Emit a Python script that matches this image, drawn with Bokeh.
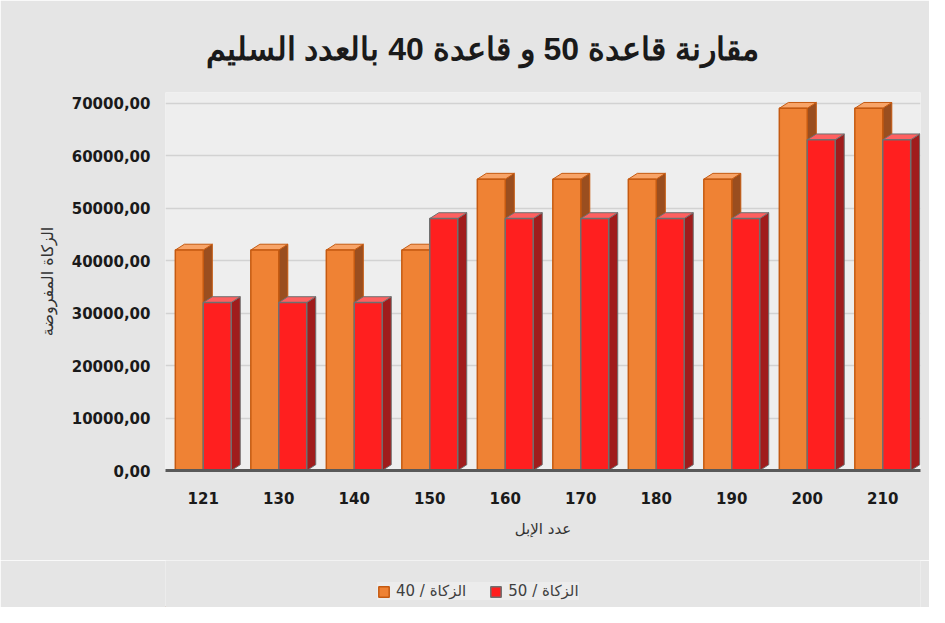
from bokeh.plotting import figure
from bokeh.layouts import column
from bokeh.models import Range1d, FixedTicker, Legend, LegendItem, ColumnDataSource
from bokeh.embed import file_html
from bokeh.resources import INLINE

# ---------------- data ----------------
categories = ["121", "130", "140", "150", "160", "170", "180", "190", "200", "210"]
zakat_40 = [42000, 42000, 42000, 42000, 55500, 55500, 55500, 55500, 69000, 69000]
zakat_50 = [32000, 32000, 32000, 48000, 48000, 48000, 48000, 48000, 63000, 63000]
y_ticks = [0, 10000, 20000, 30000, 40000, 50000, 60000, 70000]
y_tick_labels = ["0,00", "10000,00", "20000,00", "30000,00",
                 "40000,00", "50000,00", "60000,00", "70000,00"]
series_labels = ["40 / الزكاة", "50 / الزكاة"]
title_text = "مقارنة قاعدة 50 و قاعدة  40 بالعدد السليم"
x_label = "عدد الإبل"
y_label = "الزكاة المفروضة"

# ---------------- style ----------------
BAR_W = 0.37
DODGE = 0.185
DX = 0.12      # 3D depth (x units)
DY = 1100      # 3D depth (y units)
BG = "#e5e5e5"

ORANGE = dict(front="#EF8234", side="#9A4E1F", top="#F8A468", line="#C55A11")
RED = dict(front="#FF1F1F", side="#A01C1C", top="#FF6060", line="#6F6F6F")

p = figure(width=929, height=560, output_backend="svg", toolbar_location=None,
           x_range=Range1d(-0.5, len(categories) - 0.5), y_range=Range1d(0, 72000))
p.min_border_left = 165
p.min_border_right = 9
p.min_border_top = 92
p.min_border_bottom = 90
p.border_fill_color = BG
p.background_fill_color = "#eeeeee"
p.outline_line_color = None


def draw_series(fig, values, offset, col):
    xs = [i + offset for i in range(len(values))]
    side_xs, side_ys, top_xs, top_ys = [], [], [], []
    for c, v in zip(xs, values):
        l, r = c - BAR_W / 2, c + BAR_W / 2
        side_xs.append([r, r + DX, r + DX, r])
        side_ys.append([0, DY, v + DY, v])
        top_xs.append([l, r, r + DX, l + DX])
        top_ys.append([v, v, v + DY, v + DY])
    fig.patches(side_xs, side_ys, fill_color=col["side"], line_color=col["line"], line_width=1)
    fig.patches(top_xs, top_ys, fill_color=col["top"], line_color=col["line"], line_width=1)
    src = ColumnDataSource(dict(x=xs, top=values))
    return fig.vbar(x="x", top="top", width=BAR_W, source=src,
                    fill_color=col["front"], line_color=col["line"], line_width=1.5)


r40 = draw_series(p, zakat_40, -DODGE, ORANGE)
r50 = draw_series(p, zakat_50, DODGE, RED)

# ---------------- axes ----------------
p.xaxis.ticker = FixedTicker(ticks=list(range(len(categories))))
p.xaxis.major_label_overrides = {i: c for i, c in enumerate(categories)}
p.xaxis.axis_label = x_label
p.xaxis.axis_line_color = "#595959"
p.xaxis.axis_line_width = 3
p.xaxis.major_tick_line_color = None
p.xaxis.minor_tick_line_color = None
p.xaxis.major_tick_out = 0
p.xaxis.major_tick_in = 0
p.xaxis.major_label_standoff = 21
p.xaxis.axis_label_standoff = 13
p.xaxis.major_label_text_font = "DejaVu Sans"
p.xaxis.major_label_text_font_style = "bold"
p.xaxis.major_label_text_font_size = "15px"
p.xaxis.major_label_text_color = "#1a1a1a"
p.xaxis.axis_label_text_font = "DejaVu Sans"
p.xaxis.axis_label_text_font_style = "normal"
p.xaxis.axis_label_text_font_size = "15px"
p.xaxis.axis_label_text_color = "#333333"

p.yaxis.ticker = FixedTicker(ticks=y_ticks)
p.yaxis.major_label_overrides = {t: s for t, s in zip(y_ticks, y_tick_labels)}
p.yaxis.axis_label = y_label
p.yaxis.axis_line_color = None
p.yaxis.major_tick_line_color = None
p.yaxis.minor_tick_line_color = None
p.yaxis.major_tick_out = 0
p.yaxis.major_tick_in = 0
p.yaxis.major_label_standoff = 15
p.yaxis.axis_label_standoff = 12
p.yaxis.major_label_text_font = "DejaVu Sans"
p.yaxis.major_label_text_font_style = "bold"
p.yaxis.major_label_text_font_size = "15px"
p.yaxis.major_label_text_color = "#1a1a1a"
p.yaxis.axis_label_text_font = "DejaVu Sans"
p.yaxis.axis_label_text_font_style = "normal"
p.yaxis.axis_label_text_font_size = "16px"
p.yaxis.axis_label_text_color = "#333333"

p.xgrid.grid_line_color = None
p.ygrid.grid_line_color = "#d2d2d2"
p.ygrid.grid_line_width = 1.5

# ---------------- title ----------------
p.title.text = title_text
p.title.align = "left"
p.title.offset = 40
p.title.text_font = "Liberation Sans"
p.title.text_font_style = "bold"
p.title.text_font_size = "32px"
p.title.text_color = "#1a1a1a"
p.title.standoff = 51

# ---------------- legend strip ----------------
lg = figure(width=929, height=47, output_backend="svg", toolbar_location=None,
            x_range=Range1d(0, 1), y_range=Range1d(0, 1),
            x_axis_location=None, y_axis_location=None, min_border=0)
lg.border_fill_color = BG
lg.background_fill_color = BG
lg.outline_line_color = None
lg.grid.grid_line_color = None
# legend keys only (kept outside the visible range)
k40 = lg.vbar(x=[-10], top=[-10], width=BAR_W, fill_color=ORANGE["front"],
              line_color=ORANGE["line"], line_width=1.5)
k50 = lg.vbar(x=[-10], top=[-10], width=BAR_W, fill_color=RED["front"],
              line_color=RED["line"], line_width=1.5)
legend = Legend(items=[LegendItem(label=series_labels[0], renderers=[k40]),
                       LegendItem(label=series_labels[1], renderers=[k50])],
                orientation="horizontal", location=(212, 7))
legend.glyph_width = 13
legend.glyph_height = 13
legend.label_text_font = "DejaVu Sans"
legend.label_text_font_size = "15px"
legend.label_text_color = "#404040"
legend.label_standoff = 6
legend.background_fill_color = "#ececec"
legend.background_fill_alpha = 1
legend.border_line_color = None
legend.padding = 7
legend.spacing = 23
legend.margin = 0
lg.add_layout(legend, "center")

layout = column(p, lg, spacing=0)
open("out.html", "w").write(file_html(layout, INLINE))
